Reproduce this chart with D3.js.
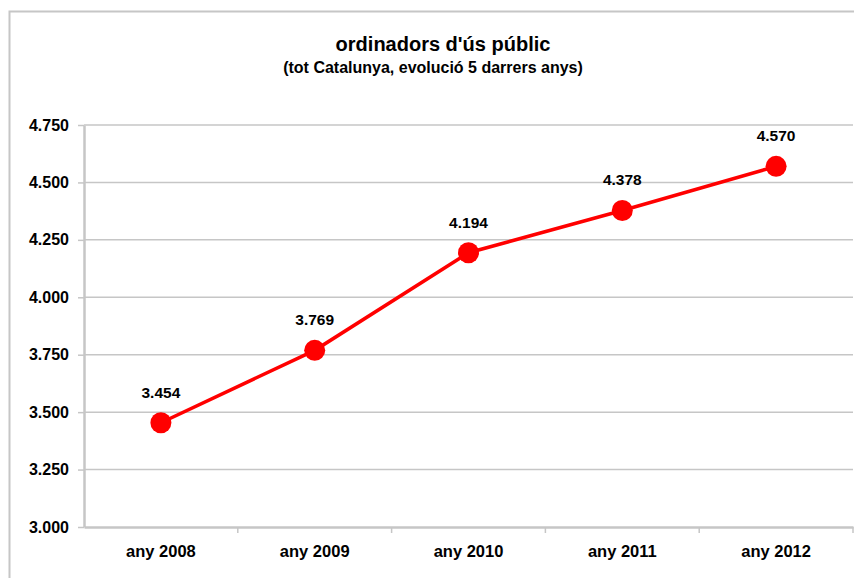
<!DOCTYPE html>
<html>
<head>
<meta charset="utf-8">
<script src="https://cdn.jsdelivr.net/npm/d3@7"></script>
<style>
  body { margin: 0; background: #fff; }
  text { font-family: "Liberation Sans", Arial, sans-serif; font-weight: bold; fill: #000; }
</style>
</head>
<body>
<svg id="chart"></svg>
<script>
// data
var years = ['any 2008', 'any 2009', 'any 2010', 'any 2011', 'any 2012'];
var values = [3.454, 3.769, 4.194, 4.378, 4.570];
var yTicks = [3.0, 3.25, 3.5, 3.75, 4.0, 4.25, 4.5, 4.75];

var width = 854;
var height = 578;
var margin = {left: 84, right: 1, top: 125, bottom: 51};

var svg = d3.select('#chart')
    .attr('width', width)
    .attr('height', height);

// outer chart border
svg.append('rect')
    .attr('x', 9.5)
    .attr('y', 11.5)
    .attr('width', 860)
    .attr('height', 600)
    .attr('fill', 'none')
    .attr('stroke', '#c6c6c6')
    .attr('stroke-width', 2);

var xScale = d3.scaleBand()
    .domain(years)
    .range([margin.left, width - margin.right]);

var yScale = d3.scaleLinear()
    .domain([3, 4.75])
    .range([height - margin.bottom, margin.top]);

// gridlines
svg.append('g')
    .selectAll('line')
    .data(yTicks.slice(1))
    .enter()
    .append('line')
        .attr('x1', margin.left)
        .attr('x2', width - margin.right)
        .attr('y1', d => yScale(d))
        .attr('y2', d => yScale(d))
        .attr('stroke', '#c6c6c6')
        .attr('stroke-width', 1.5);

// y-Axis
var yAxis = d3.axisLeft(yScale)
    .tickValues(yTicks)
    .tickFormat(d3.format('.3f'))
    .tickSize(6)
    .tickPadding(9)
    .tickSizeOuter(0);

var gy = svg.append('g')
    .attr('transform', 'translate(' + margin.left + ',0)')
    .call(yAxis);
gy.select('.domain').attr('stroke', '#c6c6c6').attr('stroke-width', 2.5);
gy.selectAll('.tick line').attr('stroke', '#c6c6c6').attr('stroke-width', 1.5);
gy.selectAll('.tick text').style('font-size', '16px').style('font-family', '"Liberation Sans", Arial, sans-serif');

// x-Axis
var xAxis = d3.axisBottom(xScale).tickSize(0).tickPadding(18).tickSizeOuter(0);
var gx = svg.append('g')
    .attr('transform', 'translate(0,' + (height - margin.bottom) + ')')
    .call(xAxis);
gx.select('.domain').attr('stroke', '#c6c6c6').attr('stroke-width', 2.5);
gx.selectAll('.tick text').style('font-size', '16.5px').style('font-family', '"Liberation Sans", Arial, sans-serif');

// x tick marks at band edges
gx.selectAll('.edge')
    .data(years)
    .enter()
    .append('line')
        .attr('x1', d => xScale(d) + xScale.bandwidth())
        .attr('x2', d => xScale(d) + xScale.bandwidth())
        .attr('y1', 0)
        .attr('y2', 6)
        .attr('stroke', '#c6c6c6')
        .attr('stroke-width', 1.5);

// line
var line = d3.line()
    .x((d, i) => xScale(years[i]) + xScale.bandwidth() / 2)
    .y(d => yScale(d));

svg.append('path')
    .datum(values)
    .attr('d', line)
    .attr('fill', 'none')
    .attr('stroke', '#ff0000')
    .attr('stroke-width', 3.5);

svg.selectAll('circle')
    .data(values)
    .enter()
    .append('circle')
        .attr('cx', (d, i) => xScale(years[i]) + xScale.bandwidth() / 2)
        .attr('cy', d => yScale(d))
        .attr('r', 10.5)
        .attr('fill', '#ff0000');

// value labels
svg.selectAll('.val')
    .data(values)
    .enter()
    .append('text')
        .attr('class', 'val')
        .attr('x', (d, i) => xScale(years[i]) + xScale.bandwidth() / 2)
        .attr('y', d => yScale(d) - 25)
        .style('text-anchor', 'middle')
        .style('font-size', '15.5px')
        .text(d => d3.format('.3f')(d));

// titles
svg.append('text')
    .attr('x', 443)
    .attr('y', 51)
    .style('text-anchor', 'middle')
    .style('font-size', '20px')
    .text("ordinadors d'ús públic");

svg.append('text')
    .attr('x', 433)
    .attr('y', 73)
    .style('text-anchor', 'middle')
    .style('font-size', '16px')
    .text('(tot Catalunya, evolució 5 darrers anys)');
</script>
</body>
</html>
